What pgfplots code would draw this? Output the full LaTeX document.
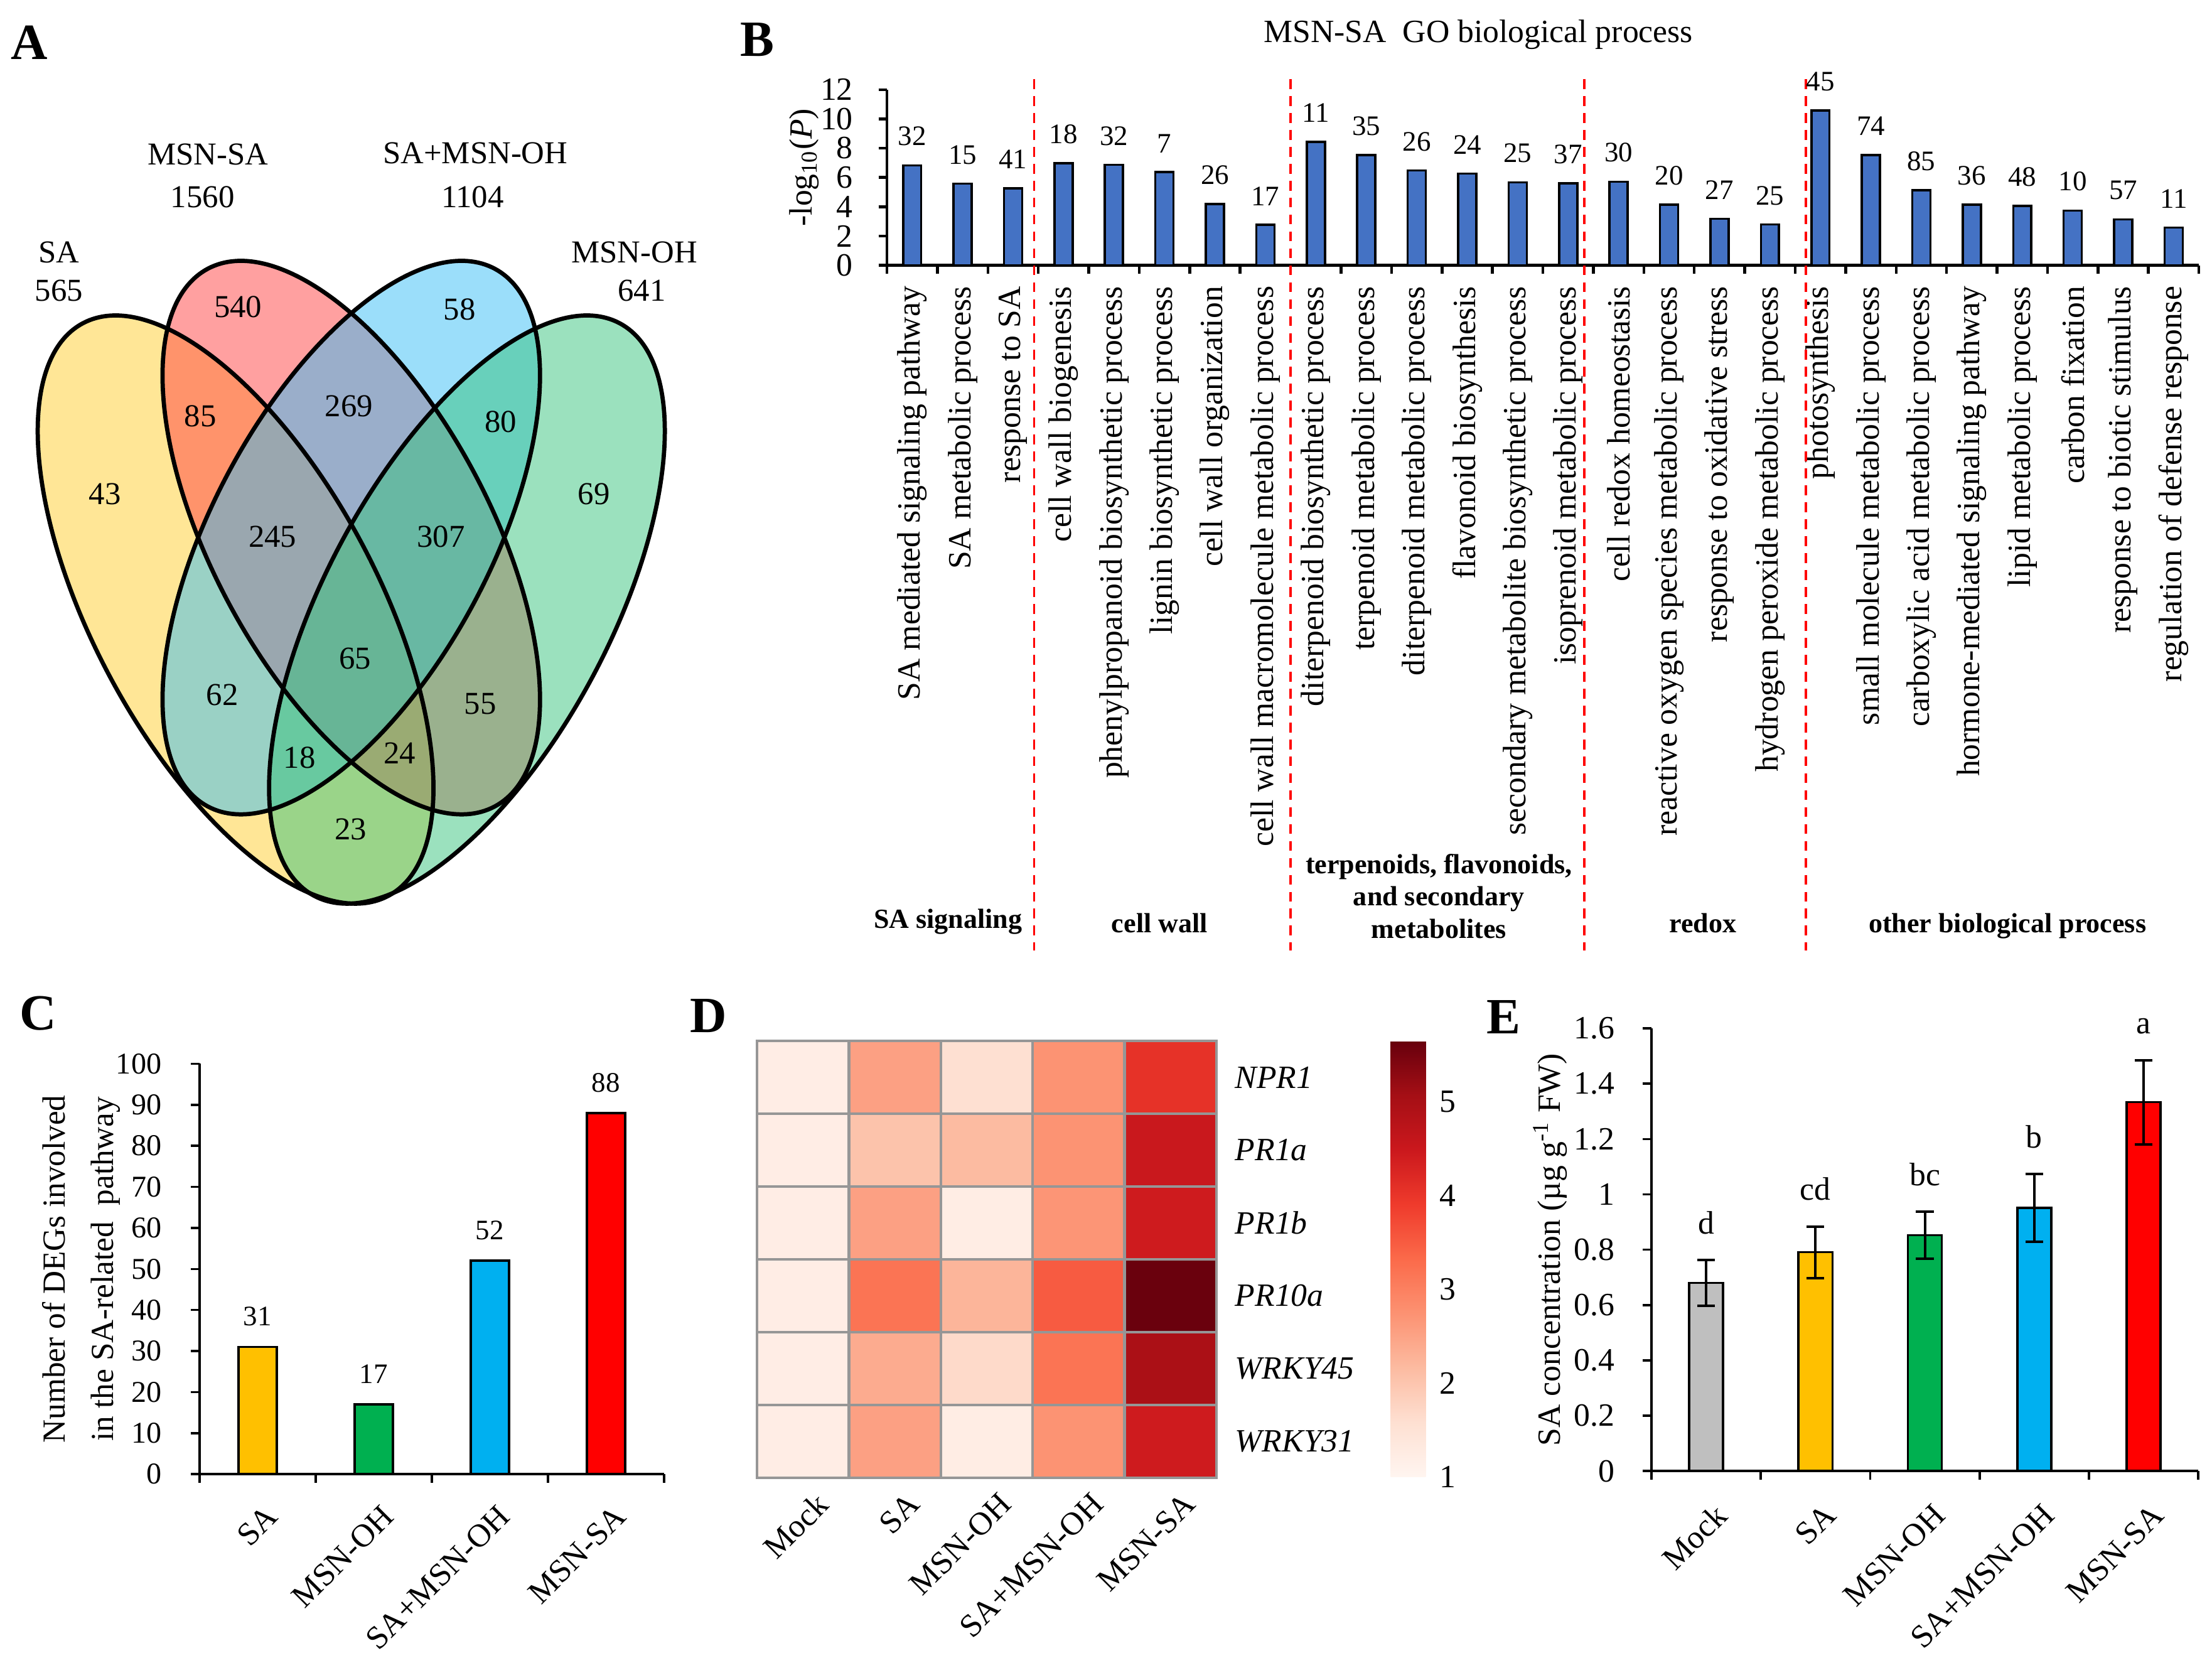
\documentclass[border=0pt]{standalone}
\usepackage{fontspec}
\setmainfont{Liberation Serif}
\usepackage{pgfplots}
\usepackage{pgfplotstable}
\pgfplotsset{compat=1.18}
\pgfplotsset{/pgf/number format/assume math mode=true}

\newcommand\fN{\fontsize{11.5pt}{13.8pt}\selectfont}
\newcommand\fV{\fontsize{11.3pt}{13.5pt}\selectfont}
\newcommand\fS{\fontsize{10pt}{12pt}\selectfont}
\newcommand\fT{\fontsize{10.7pt}{12.8pt}\selectfont}
\newcommand\fG{\fontsize{9.8pt}{11.6pt}\selectfont\bfseries}
\newcommand\fL{\fontsize{18pt}{20pt}\selectfont\bfseries}

\definecolor{bbar}{RGB}{68,114,196}
\definecolor{cyel}{RGB}{255,192,0}
\definecolor{cgrn}{RGB}{0,176,80}
\definecolor{cblu}{RGB}{0,176,240}
\definecolor{cred}{RGB}{255,0,0}
\definecolor{cgry}{RGB}{191,191,191}
\definecolor{vY}{RGB}{255,205,45}
\definecolor{vR}{RGB}{255,65,65}
\definecolor{vB}{RGB}{55,189,245}
\definecolor{vG}{RGB}{55,195,125}
\definecolor{hgrid}{RGB}{150,150,150}

\pgfplotstableread{
x y n
1 6.83 32
2 5.57 15
3 5.26 41
4 6.97 18
5 6.86 32
6 6.37 7
7 4.19 26
8 2.76 17
9 8.43 11
10 7.54 35
11 6.47 26
12 6.26 24
13 5.67 25
14 5.60 37
15 5.71 30
16 4.14 20
17 3.17 27
18 2.79 25
19 10.57 45
20 7.53 74
21 5.14 85
22 4.14 36
23 4.06 48
24 3.74 10
25 3.14 57
26 2.57 11
}\Bdata

\pgfplotstableread{
x y e l
1 0.680 0.083 d
2 0.791 0.093 cd
3 0.852 0.085 bc
4 0.951 0.122 b
5 1.333 0.152 a
}\Edata

\pgfplotstableread{
x y c
0 0 1.22
1 0 2.54
2 0 1.58
3 0 2.73
4 0 4.06
0 1 1.22
1 1 2.04
2 1 2.16
3 1 2.73
4 1 4.52
0 2 1.22
1 2 2.54
2 2 1.23
3 2 2.70
4 2 4.44
0 3 1.22
1 3 3.18
2 3 2.25
3 3 3.51
4 3 5.62
0 4 1.22
1 4 2.39
2 4 1.68
3 4 3.18
4 4 4.98
0 5 1.22
1 5 2.54
2 5 1.23
3 5 2.73
4 5 4.44
}\Ddata

\pgfplotsset{
  cbar/.style={ybar, bar width=0.33, draw=black, line width=0.8pt, fill=#1,
    nodes near coords, nodes near coords style={font=\fS, anchor=south, inner sep=0pt, yshift=7pt, text=black}},
  ebar/.style={ybar, bar width=0.31, draw=black, line width=0.8pt, fill=#1,
    error bars/.cd, y dir=both, y explicit,
    error bar style={line width=0.9pt, black},
    error mark=-, error mark options={rotate=90, mark size=3.15pt, line width=0.9pt, black}},
}

\begin{document}
\begin{tikzpicture}[x=0.5pt,y=-0.5pt]
\useasboundingbox (0,0) rectangle (1568,1175);

% ---------- full-page layer: Venn diagram and annotations ----------
\begin{axis}[at={(0pt,0pt)}, anchor=north west, scale only axis,
  width=784pt, height=587.5pt, xmin=0, xmax=1568, ymin=0, ymax=1175,
  y dir=reverse, hide axis, clip=false]
\fill[vY, fill opacity=0.5, rotate around={-61.9:(axis cs:167,432)}] (axis cs:167,432) ellipse [x radius=115pt, y radius=50.5pt];
\fill[vR, fill opacity=0.5, rotate around={-61.9:(axis cs:249,381)}] (axis cs:249,381) ellipse [x radius=108pt, y radius=49.25pt];
\fill[vB, fill opacity=0.5, rotate around={61.9:(axis cs:249,381)}] (axis cs:249,381) ellipse [x radius=108pt, y radius=49.25pt];
\fill[vG, fill opacity=0.5, rotate around={61.9:(axis cs:331,432)}] (axis cs:331,432) ellipse [x radius=115pt, y radius=50.5pt];
\draw[black, line width=1.5pt, rotate around={-61.9:(axis cs:167,432)}] (axis cs:167,432) ellipse [x radius=115pt, y radius=50.5pt];
\draw[black, line width=1.5pt, rotate around={-61.9:(axis cs:249,381)}] (axis cs:249,381) ellipse [x radius=108pt, y radius=49.25pt];
\draw[black, line width=1.5pt, rotate around={61.9:(axis cs:249,381)}] (axis cs:249,381) ellipse [x radius=108pt, y radius=49.25pt];
\draw[black, line width=1.5pt, rotate around={61.9:(axis cs:331,432)}] (axis cs:331,432) ellipse [x radius=115pt, y radius=50.5pt];

\tikzset{vt/.style={font=\fV, anchor=base, inner sep=0pt}}
\node[vt] at (axis cs:41.8,186) {SA};
\node[vt] at (axis cs:41.8,213.4) {565};
\node[vt] at (axis cs:147.5,116.7) {MSN-SA};
\node[vt] at (axis cs:143.6,147) {1560};
\node[vt] at (axis cs:337,115.9) {SA+MSN-OH};
\node[vt] at (axis cs:335,147) {1104};
\node[vt] at (axis cs:449.7,186.1) {MSN-OH};
\node[vt] at (axis cs:455,213.4) {641};
\node[vt] at (axis cs:168.7,225.1) {540};
\node[vt] at (axis cs:325.7,226.8) {58};
\node[vt] at (axis cs:142,302.5) {85};
\node[vt] at (axis cs:247.3,295.3) {269};
\node[vt] at (axis cs:355,306.5) {80};
\node[vt] at (axis cs:74.4,357.5) {43};
\node[vt] at (axis cs:421,357.5) {69};
\node[vt] at (axis cs:193.2,387.8) {245};
\node[vt] at (axis cs:312.6,387.8) {307};
\node[vt] at (axis cs:251.6,473.9) {65};
\node[vt] at (axis cs:157.6,499.9) {62};
\node[vt] at (axis cs:340.4,506.2) {55};
\node[vt] at (axis cs:212.4,544.5) {18};
\node[vt] at (axis cs:283.2,541.1) {24};
\node[vt] at (axis cs:248.7,594.9) {23};

\node[font=\fL, inner sep=0pt] at (axis cs:21,30) {A};
\node[font=\fL, inner sep=0pt] at (axis cs:537,28) {B};
\node[font=\fL, inner sep=0pt] at (axis cs:27,718) {C};
\node[font=\fL, inner sep=0pt] at (axis cs:502,720) {D};
\node[font=\fL, inner sep=0pt] at (axis cs:1066,721) {E};

\node[font=\fN, anchor=base, inner sep=0pt] at (axis cs:1048,30) {MSN-SA\ \ GO biological process};

\tikzset{gl/.style={font=\fG, anchor=base, inner sep=0pt}}
\node[gl] at (axis cs:672,658) {SA signaling};
\node[gl] at (axis cs:822,661) {cell wall};
\node[gl] at (axis cs:1020,619) {terpenoids, flavonoids,};
\node[gl] at (axis cs:1020,642) {and secondary};
\node[gl] at (axis cs:1020,665) {metabolites};
\node[gl] at (axis cs:1207,661) {redox};
\node[gl] at (axis cs:1423,661) {other biological process};
\end{axis}

% ---------- B ----------
\begin{axis}[at={(314.35pt,-94pt)}, anchor=south west, scale only axis,
  width=465pt, height=62.25pt,
  xmin=0.5, xmax=26.5, ymin=0, ymax=12, ytick={0,2,...,12},
  xtick={0.5,1.5,...,26.5}, xticklabels={},
  extra x ticks={1,2,...,26},
  extra x tick labels={SA mediated signaling pathway, SA metabolic process, response to SA, cell wall biogenesis, phenylpropanoid biosynthetic process, lignin biosynthetic process, cell wall organization, cell wall macromolecule metabolic process, diterpenoid biosynthetic process, terpenoid metabolic process, diterpenoid metabolic process, flavonoid biosynthesis, secondary metabolite biosynthetic process, isoprenoid metabolic process, cell redox homeostasis, reactive oxygen species metabolic process, response to oxidative stress, hydrogen peroxide metabolic process, photosynthesis, small molecule metabolic process, carboxylic acid metabolic process, hormone-mediated signaling pathway, lipid metabolic process, carbon fixation, response to biotic stimulus, regulation of defense response},
  extra x tick style={tick style={draw=none}, xticklabel style={yshift=-4.25pt, rotate=90, anchor=east, inner sep=0pt, font=\fN}},
  axis x line*=bottom, axis y line*=left, axis line style={-, line width=1pt},
  tick align=outside, major tick length=3pt, tick style={black, line width=1pt},
  yticklabel style={font=\fN, inner sep=0pt, xshift=-8.85pt},
  ylabel={-log\textsubscript{10}(\textit{P})},
  ylabel style={font=\fN, at={(axis description cs:-0.0631,0.557)}, anchor=center},
  clip=false]
\addplot[ybar, bar width=0.36, fill=bbar, draw=black, line width=0.8pt,
  nodes near coords, point meta=explicit symbolic,
  nodes near coords style={font=\fS, anchor=south, inner sep=0pt, yshift=6.5pt, text=black}]
  table[x=x, y=y, meta=n] {\Bdata};
\draw[red, line width=0.75pt, dash pattern=on 3.5pt off 2.5pt] (axis cs:3.42,12.72) -- (axis cs:3.42,-46.8);
\draw[red, line width=0.75pt, dash pattern=on 3.5pt off 2.5pt] (axis cs:8.5,12.72) -- (axis cs:8.5,-46.8);
\draw[red, line width=0.75pt, dash pattern=on 3.5pt off 2.5pt] (axis cs:14.32,12.72) -- (axis cs:14.32,-46.8);
\draw[red, line width=0.75pt, dash pattern=on 3.5pt off 2.5pt] (axis cs:18.71,12.72) -- (axis cs:18.71,-46.8);
\end{axis}

% ---------- C ----------
\begin{axis}[at={(70.7pt,-522.4pt)}, anchor=south west, scale only axis,
  width=164.65pt, height=145.45pt,
  xmin=0.5, xmax=4.5, ymin=0, ymax=100, ytick={0,10,...,100},
  xtick={0.5,1.5,...,4.5}, xticklabels={},
  extra x ticks={1,2,3,4}, extra x tick labels={SA,MSN-OH,SA+MSN-OH,MSN-SA},
  extra x tick style={tick style={draw=none}, xticklabel style={xshift=2.35pt, yshift=-7pt, rotate=45, anchor=north east, inner sep=0pt, font=\fN}},
  axis x line*=bottom, axis y line*=left, axis line style={-, line width=0.8pt},
  tick align=outside, major tick length=3.1pt, tick style={black, line width=0.8pt},
  yticklabel style={font=\fT, inner sep=0pt, xshift=-10.2pt},
  ylabel={Number of DEGs involved\\in the SA-related\ \ pathway},
  ylabel style={font=\fontsize{11.4pt}{17.2pt}\selectfont, align=center, at={(axis description cs:-0.254,0.5)}, anchor=center},
  clip=false]
\addplot[cbar=cyel] coordinates {(1,31)};
\addplot[cbar=cgrn] coordinates {(2,17)};
\addplot[cbar=cblu] coordinates {(3,52)};
\addplot[cbar=cred] coordinates {(4,88)};
\end{axis}

% ---------- D ----------
\begin{axis}[at={(268.3pt,-523.65pt)}, anchor=south west, scale only axis,
  width=162.85pt, height=154.8pt,
  xmin=-0.5, xmax=4.5, ymin=-0.5, ymax=5.5, y dir=reverse,
  xtick={0,...,4}, xticklabels={Mock,SA,MSN-OH,SA+MSN-OH,MSN-SA},
  ytick={0,...,5}, yticklabels={NPR1,PR1a,PR1b,PR10a,WRKY45,WRKY31},
  yticklabel pos=right,
  major tick length=0pt, minor tick length=0pt,
  minor xtick={0.5,1.5,2.5,3.5}, minor ytick={0.5,1.5,2.5,3.5,4.5},
  grid=minor, minor grid style={draw=hgrid, line width=1pt},
  axis on top, axis line style={draw=hgrid, line width=1pt},
  xticklabel style={xshift=4pt, yshift=-4.5pt, rotate=45, anchor=north east, inner sep=0pt, font=\fN},
  yticklabel style={font=\fN\itshape, anchor=west, inner sep=0pt, xshift=6.45pt},
  colormap={reds}{rgb255=(255,245,240) rgb255=(254,224,210) rgb255=(252,187,161) rgb255=(252,146,114) rgb255=(251,106,74) rgb255=(239,59,44) rgb255=(203,24,29) rgb255=(165,15,21) rgb255=(103,0,13)},
  point meta min=1, point meta max=5.65,
  colorbar,
  colorbar style={at={(parent axis.north east)}, anchor=north west, xshift=53.15pt,
    width=12.5pt, height=154.5pt, ytick={1,2,3,4,5}, major tick length=0pt,
    axis line style={draw=none}, grid=none,
    yticklabel style={font=\fN, inner sep=0pt, anchor=west, xshift=4.7pt}},
  ]
\addplot[matrix plot*, mesh/cols=5, point meta=explicit] table[x=x, y=y, meta=c] {\Ddata};
\end{axis}

% ---------- E ----------
\begin{axis}[at={(585.3pt,-521.3pt)}, anchor=south west, scale only axis,
  width=193.85pt, height=156.9pt,
  xmin=0.5, xmax=5.5, ymin=0, ymax=1.6, ytick={0,0.2,0.4,0.6,0.8,1,1.2,1.4,1.6},
  xtick={0.5,1.5,...,5.5}, xticklabels={},
  extra x ticks={1,2,3,4,5}, extra x tick labels={Mock,SA,MSN-OH,SA+MSN-OH,MSN-SA},
  extra x tick style={tick style={draw=none}, xticklabel style={xshift=2.45pt, yshift=-7.7pt, rotate=45, anchor=north east, inner sep=0pt, font=\fN}},
  axis x line*=bottom, axis y line*=left, axis line style={-, line width=0.8pt},
  tick align=outside, major tick length=3.1pt, tick style={black, line width=0.8pt},
  yticklabel style={font=\fN, inner sep=0pt, xshift=-9.8pt},
  ylabel={SA concentration (µg g\textsuperscript{-1} FW)},
  ylabel style={font=\fN, at={(axis description cs:-0.185,0.5)}, anchor=center},
  clip=false]
\addplot[ebar=cgry] coordinates {(1,0.680) +- (0,0.083)};
\addplot[ebar=cyel] coordinates {(2,0.791) +- (0,0.093)};
\addplot[ebar=cgrn] coordinates {(3,0.852) +- (0,0.085)};
\addplot[ebar=cblu] coordinates {(4,0.951) +- (0,0.122)};
\addplot[ebar=cred] coordinates {(5,1.333) +- (0,0.152)};
\addplot[black, draw=none, mark=none, nodes near coords, point meta=explicit symbolic,
  nodes near coords style={font=\fN, anchor=south, inner sep=0pt, yshift=9pt, text=black}]
  table[x=x, y expr=\thisrow{y}+\thisrow{e}, meta=l] {\Edata};
\end{axis}
\end{tikzpicture}
\end{document}
